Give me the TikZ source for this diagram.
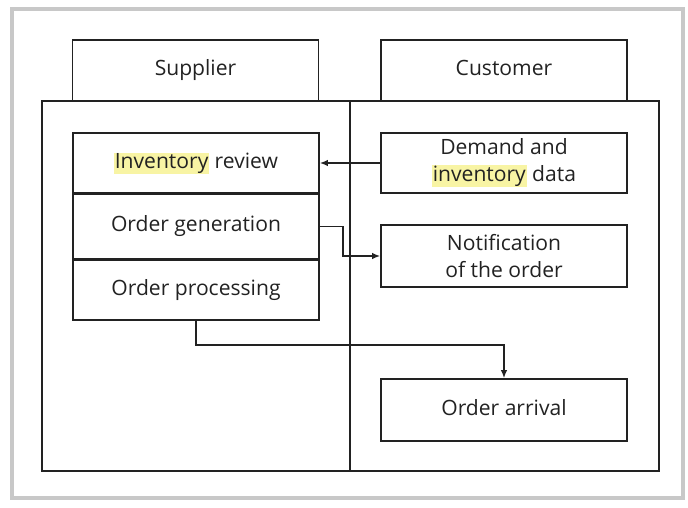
\documentclass[tikz,border=0pt]{standalone}
\usepackage{fontspec}
\setmainfont{Open Sans}
\usetikzlibrary{arrows.meta, positioning}
\definecolor{framegray}{HTML}{C8C8C8}
\definecolor{ink}{HTML}{222222}
\definecolor{hlyellow}{HTML}{F8F4A4}
\newcommand{\hlword}[1]{{\setlength{\fboxsep}{0.6pt}\colorbox{hlyellow}{#1}}}

\begin{document}
\begin{tikzpicture}[>={Latex[length=2mm, width=1.6mm]}, line width=1.1pt,
  box/.style={draw=ink, minimum width=6.15cm, align=center, text=ink,
    font=\fontsize{15}{19}\selectfont, inner sep=0pt},
  oneline/.style={text height=2.0ex, text depth=0.55ex},
  flow/.style={->, draw=ink, line width=1.1pt}]

\useasboundingbox (0,0) rectangle (17.2,12.7);

% Outer frame
\draw[framegray, line width=3pt] (0.3,0.25) rectangle (17.07,12.47);

% Lane headers
\node[box, oneline, minimum height=1.525cm] (supplier) at (4.8875,10.9375) {Supplier};
\node[box, oneline, minimum height=1.525cm] (customer) at (12.6,10.9375) {Customer};

% Lanes
\draw[ink, line width=1.4pt] (1.05,0.925) rectangle (16.475,10.175);
\draw[ink, line width=0.8pt] (8.75,10.175) -- (8.75,0.925);

% Supplier steps
\node[box, oneline, minimum height=1.5cm] (review) at (4.9,8.625) {\hlword{Inventory} review};
\node[box, oneline, minimum height=1.6cm, below=0pt of review] (generation) {Order generation};
\node[box, oneline, minimum height=1.5cm, below=0pt of generation] (processing) {Order processing};

% Customer steps
\node[box, minimum height=1.5cm] (demand) at (12.6,8.625) {Demand and\\\hlword{inventory} data};
\node[box, minimum height=1.55cm] (notice) at (12.6,6.3) {Notification\\of the order};
\node[box, oneline, minimum height=1.55cm] (arrival) at (12.6,2.45) {Order arrival};

% Flows
\draw[flow] (demand.west) -- (review.east);
\draw[flow] (generation.east) -- ++(0.575,0) |- (notice.west);
\draw[flow] (processing.south) -- ++(0,-0.6) -| (arrival.north);

\end{tikzpicture}
\end{document}
